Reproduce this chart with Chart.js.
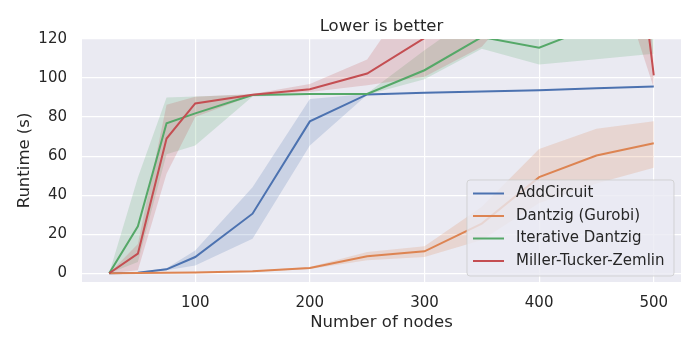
<!DOCTYPE html>
<html>
<head>
<meta charset="utf-8">
<script src="https://cdn.jsdelivr.net/npm/chart.js@4/dist/chart.umd.min.js"></script>
<style>
  html, body { margin: 0; padding: 0; background: #fff; }
  #wrap { width: 700px; height: 350px; }
</style>
</head>
<body>
<div id="wrap"><canvas id="chart"></canvas></div>
<script>
// data
const nodes = [25, 50, 75, 100, 150, 200, 250, 300, 350, 400, 450, 500];
const seriesNames = ['AddCircuit', 'Dantzig (Gurobi)', 'Iterative Dantzig', 'Miller-Tucker-Zemlin'];
const seriesColors = ['#4C72B0', '#DD8452', '#55A868', '#C44E52'];

const addCircuit      = [0, 0.3, 2, 8.3, 30.5, 77.8, 91.6, 92.4, 93.1, 93.8, 94.8, 95.7];
const addCircuitHi    = [0, 0.6, 2.5, 11.7, 44, 89.2, 91.8, 92.6, 93.3, 94, 95, 95.9];
const addCircuitLo    = [0, 0.1, 1.5, 4, 17.7, 65.4, 91.4, 92.2, 92.9, 93.6, 94.6, 95.5];

const dantzig         = [0, 0.1, 0.2, 0.4, 1, 2.7, 8.7, 11.2, 25.4, 49.2, 60.3, 66.6];
const dantzigHi       = [0, 0.2, 0.3, 0.6, 1.3, 3.2, 10.9, 13.8, 34, 63.7, 74, 77.8];
const dantzigLo       = [0, 0, 0.1, 0.2, 0.7, 2.2, 6.6, 8.3, 17, 36, 46, 54];

const iterative       = [0, 24, 76.8, 81.9, 91.3, 91.8, 91.8, 104, 121, 115.5, 127, 135];
const iterativeHi     = [0, 49, 90, 90.5, 91.6, 92, 92.2, 114.2, 135, 125, 145, 170];
const iterativeLo     = [0, 5.8, 61, 65.4, 90.5, 91.5, 91.4, 99.4, 115, 106.9, 109.6, 112.5];

const mtz             = [0, 10, 69, 87, 91.4, 94.3, 102.3, 120.5, 160, 220, 340, 101.4];
const mtzHi           = [0, 15, 86.3, 90.4, 91.8, 97, 109.5, 152, 200, 280, 420, 110];
const mtzLo           = [0, 1.5, 51, 80, 91, 92.8, 96.3, 100.6, 116, 150, 185, 95];

const xTicks = [100, 200, 300, 400, 500];
const yTicks = [0, 20, 40, 60, 80, 100, 120];

const means = [addCircuit, dantzig, iterative, mtz];
const highs = [addCircuitHi, dantzigHi, iterativeHi, mtzHi];
const lows  = [addCircuitLo, dantzigLo, iterativeLo, mtzLo];

const ink = '#262626';
const fontFamily = '"DejaVu Sans", sans-serif';

function pts(vals) {
  return nodes.map((x, i) => ({ x: x, y: vals[i] }));
}

function alpha(hex, a) {
  const n = parseInt(hex.slice(1), 16);
  return `rgba(${n >> 16}, ${(n >> 8) & 255}, ${n & 255}, ${a})`;
}

// lines on top of every band, later series on top (like matplotlib zorder)
const datasets = [];
seriesNames.forEach((name, i) => {
  const loIndex = datasets.length;
  datasets.push({
    label: name + ' lo',
    data: pts(lows[i]),
    borderWidth: 0,
    borderColor: 'transparent',
    pointRadius: 0,
    fill: false,
    order: 30 - i
  });
  datasets.push({
    label: name + ' band',
    data: pts(highs[i]),
    borderWidth: 0,
    borderColor: 'transparent',
    backgroundColor: alpha(seriesColors[i], 0.2),
    pointRadius: 0,
    fill: loIndex,
    order: 20 - i
  });
  datasets.push({
    label: name,
    data: pts(means[i]),
    borderColor: seriesColors[i],
    borderWidth: 2,
    pointRadius: 0,
    fill: false,
    order: 10 - i
  });
});

const backdrop = {
  id: 'backdrop',
  beforeDraw(chart) {
    const { ctx, chartArea: a } = chart;
    ctx.save();
    ctx.fillStyle = '#EAEAF2';
    ctx.fillRect(a.left, a.top, a.right - a.left, a.bottom - a.top);
    ctx.restore();
  }
};

// title centred over the plot area, and the legend box inside it
const overlay = {
  id: 'overlay',
  afterDraw(chart) {
    const { ctx, chartArea: a } = chart;
    ctx.save();
    ctx.fillStyle = ink;
    ctx.font = `16.5px ${fontFamily}`;
    ctx.textAlign = 'center';
    ctx.textBaseline = 'alphabetic';
    ctx.fillText('Lower is better', (a.left + a.right) / 2, 30.5);

    const bx = 467, by = 180, bw = 207, bh = 96;
    ctx.beginPath();
    ctx.roundRect(bx, by, bw, bh, 3);
    ctx.fillStyle = 'rgba(234, 234, 242, 0.8)';
    ctx.fill();
    ctx.strokeStyle = 'rgba(204, 204, 204, 0.8)';
    ctx.lineWidth = 1;
    ctx.stroke();

    ctx.font = `15px ${fontFamily}`;
    ctx.textAlign = 'left';
    ctx.textBaseline = 'middle';
    seriesNames.forEach((name, i) => {
      const y = by + 13.5 + i * 22.5;
      ctx.strokeStyle = seriesColors[i];
      ctx.lineWidth = 2;
      ctx.beginPath();
      ctx.moveTo(bx + 6, y);
      ctx.lineTo(bx + 37, y);
      ctx.stroke();
      ctx.fillStyle = ink;
      ctx.fillText(name, bx + 49, y);
    });
    ctx.restore();
  }
};

new Chart(document.getElementById('chart'), {
  type: 'line',
  data: { datasets: datasets },
  plugins: [backdrop, overlay],
  options: {
    responsive: true,
    maintainAspectRatio: false,
    animation: false,
    layout: { padding: { top: 39, right: 19, left: 0, bottom: 0 } },
    elements: { line: { tension: 0 } },
    plugins: {
      legend: { display: false },
      tooltip: { enabled: false },
      title: { display: false }
    },
    scales: {
      x: {
        type: 'linear',
        min: 1.25,
        max: 523.75,
        afterFit(scale) { scale.height = 68; },
        afterBuildTicks(scale) { scale.ticks = xTicks.map(v => ({ value: v })); },
        grid: { color: '#ffffff', lineWidth: 1.2, drawTicks: false },
        border: { display: false },
        ticks: { color: ink, font: { family: fontFamily, size: 15 }, padding: 12, maxRotation: 0 },
        title: { display: true, text: 'Number of nodes', color: ink, font: { family: fontFamily, size: 16.5 }, padding: 17 }
      },
      y: {
        min: -4.5,
        max: 120,
        afterFit(scale) { scale.width = 82; },
        afterBuildTicks(scale) { scale.ticks = yTicks.map(v => ({ value: v })); },
        grid: { color: '#ffffff', lineWidth: 1.2, drawTicks: false },
        border: { display: false },
        ticks: { color: ink, font: { family: fontFamily, size: 15 }, padding: 15 },
        title: { display: true, text: 'Runtime (s)', color: ink, font: { family: fontFamily, size: 16.5 }, padding: 14.5 }
      }
    }
  }
});
</script>
</body>
</html>
